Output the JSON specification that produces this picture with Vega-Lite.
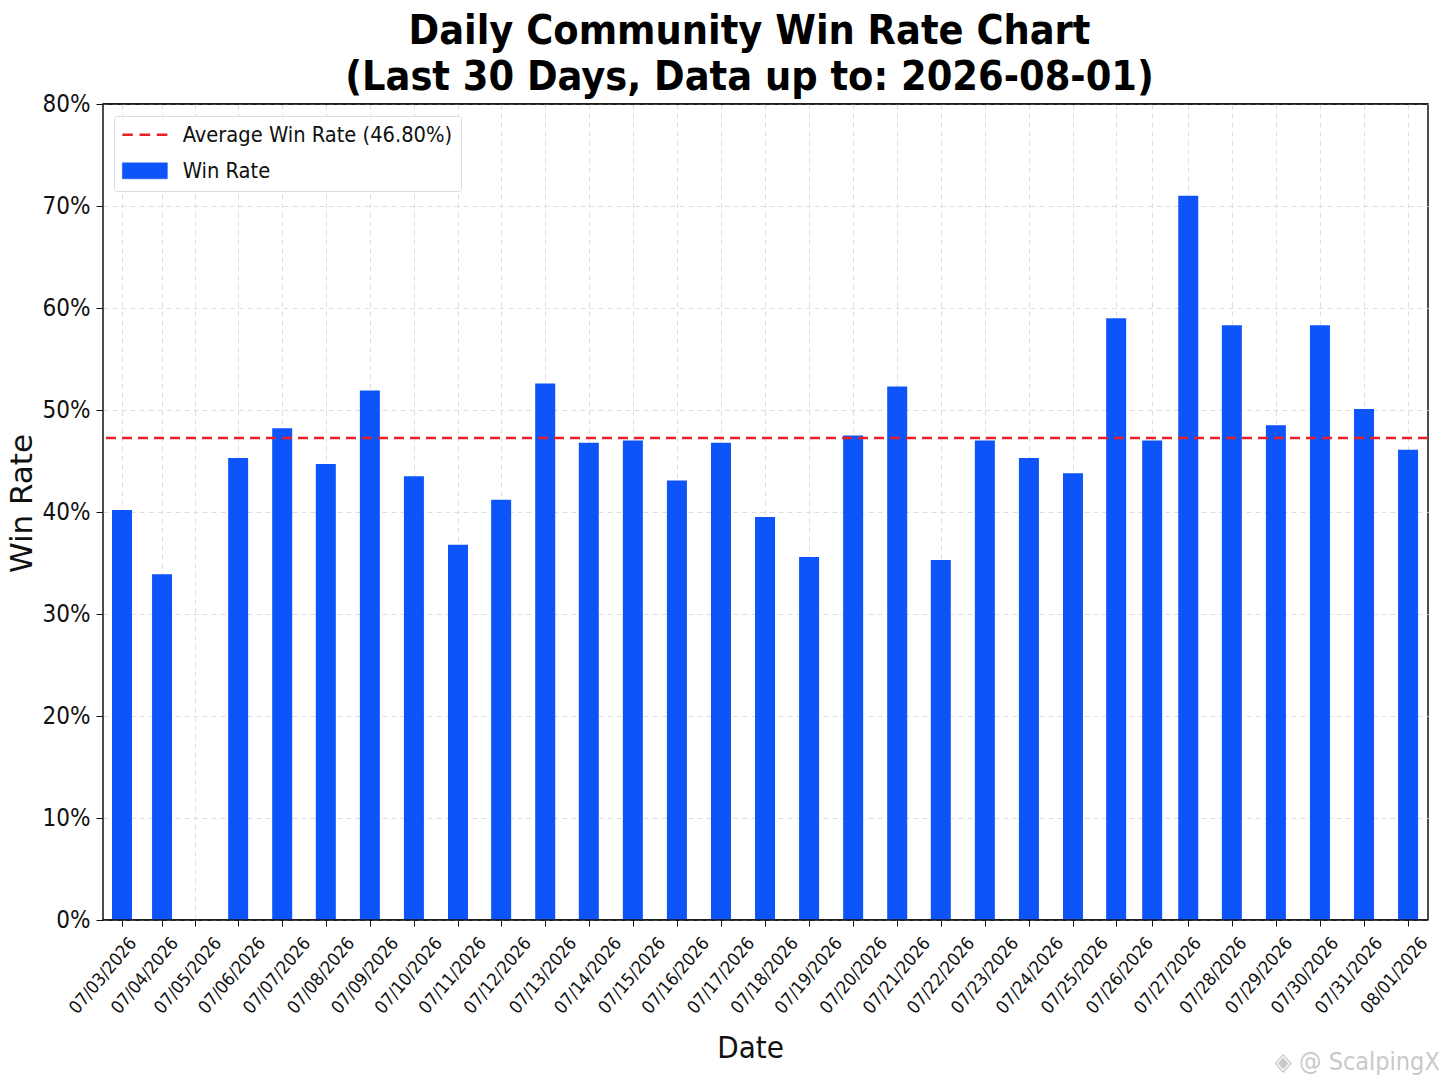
{"$schema":"https://vega.github.io/schema/vega-lite/v6.json","width":1325,"height":816,"padding":{"left":103,"top":104,"right":20,"bottom":166},"autosize":{"type":"none"},"background":"white","title":{"text":["Daily Community Win Rate Chart","(Last 30 Days, Data up to: 2026-08-01)"],"font":"DejaVu Sans Condensed","fontWeight":"bold","fontSize":41,"lineHeight":46,"color":"#000","anchor":"middle","offset":-7,"dx":-16},"resolve":{"axis":{"x":"independent"}},"layer":[{"data":{"values":[{"date":"07/03/2026","day":0,"rate":40.2},{"date":"07/04/2026","day":0.9,"rate":33.9},{"date":"07/05/2026","day":1.64,"rate":0},{"date":"07/06/2026","day":2.61,"rate":45.3},{"date":"07/07/2026","day":3.6,"rate":48.2},{"date":"07/08/2026","day":4.58,"rate":44.7},{"date":"07/09/2026","day":5.57,"rate":51.9},{"date":"07/10/2026","day":6.56,"rate":43.5},{"date":"07/11/2026","day":7.55,"rate":36.8},{"date":"07/12/2026","day":8.52,"rate":41.2},{"date":"07/13/2026","day":9.51,"rate":52.6},{"date":"07/14/2026","day":10.49,"rate":46.8},{"date":"07/15/2026","day":11.48,"rate":47.0},{"date":"07/16/2026","day":12.47,"rate":43.1},{"date":"07/17/2026","day":13.46,"rate":46.8},{"date":"07/18/2026","day":14.45,"rate":39.5},{"date":"07/19/2026","day":15.44,"rate":35.6},{"date":"07/20/2026","day":16.43,"rate":47.5},{"date":"07/21/2026","day":17.42,"rate":52.3},{"date":"07/22/2026","day":18.4,"rate":35.3},{"date":"07/23/2026","day":19.39,"rate":47.0},{"date":"07/24/2026","day":20.38,"rate":45.3},{"date":"07/25/2026","day":21.37,"rate":43.8},{"date":"07/26/2026","day":22.34,"rate":59.0},{"date":"07/26/2026","day":23.15,"rate":47.0},{"date":"07/27/2026","day":23.96,"rate":71.0},{"date":"07/28/2026","day":24.94,"rate":58.3},{"date":"07/29/2026","day":25.93,"rate":48.5},{"date":"07/30/2026","day":26.92,"rate":58.3},{"date":"07/31/2026","day":27.91,"rate":50.1},{"date":"08/01/2026","day":28.9,"rate":46.1}]},"mark":{"type":"bar","color":"#0d55fb","width":20,"orient":"vertical"},"encoding":{"x":{"field":"day","type":"quantitative","title":null,"scale":{"domain":[-0.427,29.348],"nice":false,"zero":false,"padding":0},"axis":{"orient":"bottom","values":[0,0.9,1.64,2.61,3.6,4.58,5.57,6.56,7.55,8.52,9.51,10.49,11.48,12.47,13.46,14.45,15.44,16.43,17.42,18.4,19.39,20.38,21.37,22.34,23.15,23.96,24.94,25.93,26.92,27.91,28.9],"labels":false,"tickColor":"#111","tickSize":6,"grid":true,"gridColor":"#dddddd","gridDash":[5,4],"gridWidth":1,"domain":false}},"y":{"field":"rate","type":"quantitative","title":"Win Rate","stack":null,"scale":{"domain":[0,80],"nice":false},"axis":{"values":[0,10,20,30,40,50,60,70,80],"labelExpr":"datum.value + '%'","labelFont":"DejaVu Sans Condensed","labelFontSize":24,"labelColor":"#111","labelPadding":6,"tickColor":"#111","tickSize":7,"grid":true,"gridColor":"#dddddd","gridDash":[5,4],"gridWidth":1,"domain":false,"titleFont":"DejaVu Sans","titleFontSize":31,"titleFontWeight":"normal","titleColor":"#111","titleX":-81,"titleY":399,"titleBaseline":"middle"}}}},{"data":{"values":[{"day":0,"date":"07/03/2026"},{"day":29,"date":"08/01/2026"}]},"mark":{"type":"rule","opacity":0},"encoding":{"x":{"field":"day","type":"quantitative","title":"Date","axis":{"orient":"bottom","values":[-0.02,0.92,1.89,2.88,3.89,4.88,5.87,6.85,7.84,8.85,9.87,10.88,11.87,12.85,13.87,14.85,15.84,16.85,17.82,18.81,19.8,20.81,21.82,22.83,23.91,24.93,25.96,26.99,27.98,29],"labelExpr":"timeFormat(datetime(2026,6,3+round(datum.value)),'%m/%d/%Y')","labelAngle":-50,"labelAlign":"right","labelBaseline":"top","labelFont":"DejaVu Sans Condensed","labelFontSize":18,"labelColor":"#111","labelPadding":14,"labelOffset":5,"labelOverlap":false,"labelFlush":false,"labelBound":false,"ticks":false,"grid":false,"domain":false,"titleFont":"DejaVu Sans Condensed","titleFontSize":31,"titleFontWeight":"normal","titleColor":"#111","titleX":647,"titleY":128,"titleBaseline":"middle"}}}},{"data":{"values":[{"avg":47.25,"series":"Average Win Rate (46.80%)"},{"avg":null,"series":"Win Rate"}]},"mark":{"type":"rule","color":"#e8202a","strokeWidth":2.5,"strokeDash":[10,6]},"encoding":{"y":{"field":"avg","type":"quantitative"},"color":{"field":"series","type":"nominal","scale":{"domain":["Average Win Rate (46.80%)","Win Rate"],"range":["#e8202a","#0d55fb"]},"legend":{"title":null,"orient":"none","legendX":11,"legendY":12,"fillColor":"white","strokeColor":"#dddddd","cornerRadius":3,"padding":8,"labelFont":"DejaVu Sans Condensed","labelFontSize":21.7,"labelColor":"#111","labelLimit":400,"symbolSize":400,"symbolOffset":12,"rowPadding":13,"labelOffset":27,"encode":{"symbols":{"update":{"shape":{"signal":"datum.value === 'Win Rate' ? 'M-2.25,-0.8H2.25V0.8H-2.25Z' : 'M-2.25,0H-1.2M-0.53,0H0.53M1.2,0H2.25'"},"fill":{"signal":"datum.value === 'Win Rate' ? '#0d55fb' : 'transparent'"},"stroke":{"signal":"datum.value === 'Win Rate' ? '#0d55fb' : '#e8202a'"},"strokeWidth":{"signal":"datum.value === 'Win Rate' ? 0.5 : 2.5"},"strokeDash":{"value":[]},"opacity":{"value":1}}}}}}}},{"data":{"values":[{"edge":0},{"edge":80}]},"mark":{"type":"rule","stroke":"#111","strokeWidth":1.5},"encoding":{"y":{"field":"edge","type":"quantitative"}}},{"data":{"values":[{"day":25.9,"level":-13.9,"label":"◈ @ ScalpingX"}]},"mark":{"type":"text","align":"left","baseline":"middle","font":"DejaVu Sans Condensed","fontSize":25,"color":"#c9c9c9","clip":false},"encoding":{"x":{"field":"day","type":"quantitative","axis":null},"y":{"field":"level","type":"quantitative"},"text":{"field":"label"}}}],"config":{"view":{"stroke":"#111","strokeWidth":1.5}}}
